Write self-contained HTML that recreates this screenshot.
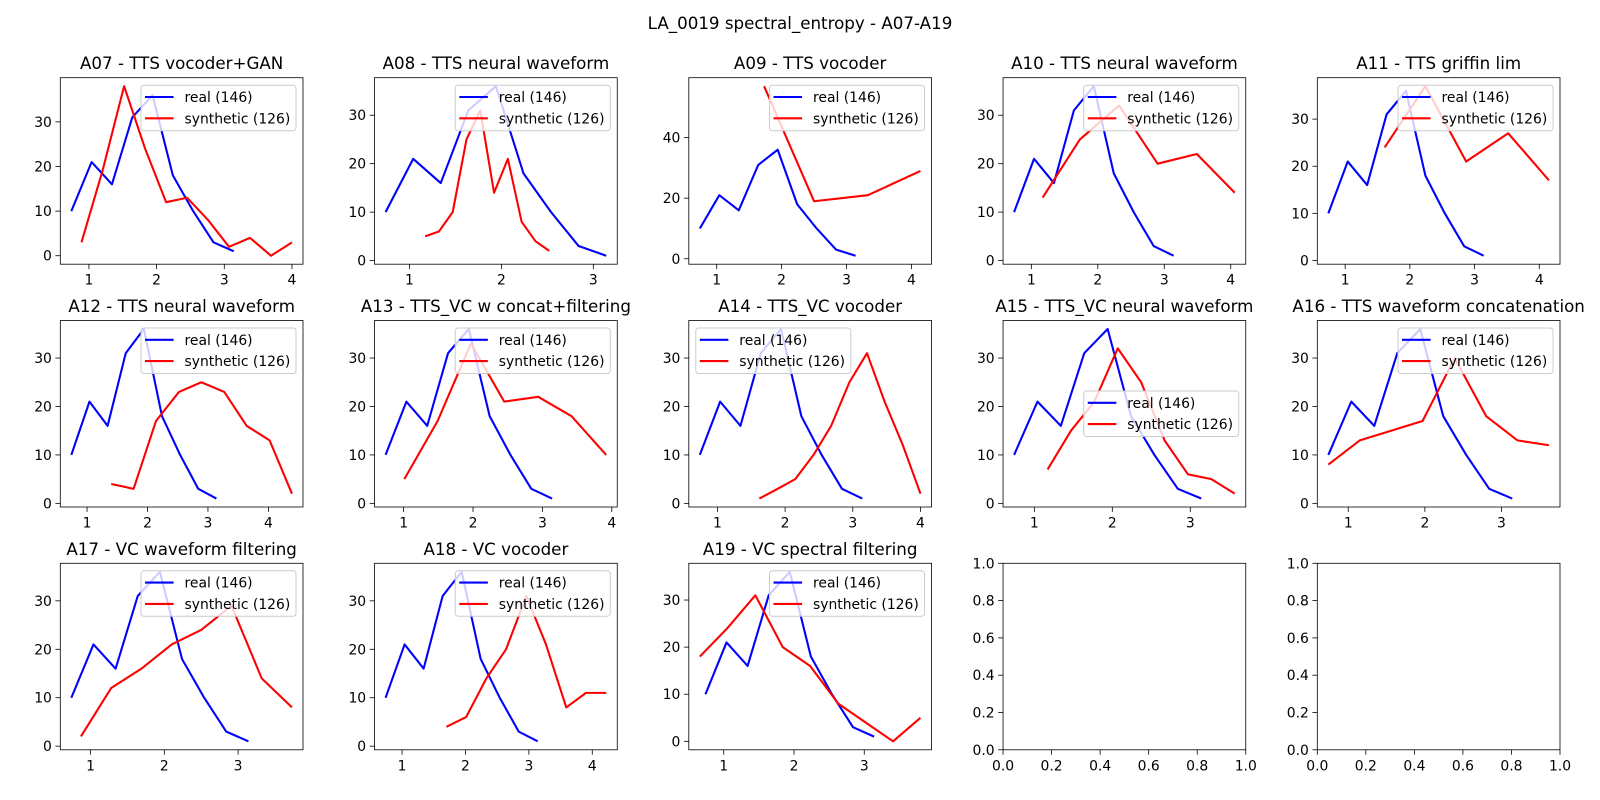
<!DOCTYPE html>
<html><head><meta charset="utf-8">
<style>
html,body{margin:0;padding:0;background:#fff;}
svg{display:block;}
text{font-family:"DejaVu Sans","Liberation Sans",sans-serif;fill:#000;}
</style></head>
<body>
<svg id="fig" width="1600" height="800" viewBox="0 0 1600 800">
<text x="800" y="29" text-anchor="middle" font-size="16.7">LA_0019 spectral_entropy - A07-A19</text>
</svg>
<script>
const titles = ["A07 - TTS vocoder+GAN","A08 - TTS neural waveform","A09 - TTS vocoder","A10 - TTS neural waveform","A11 - TTS griffin lim","A12 - TTS neural waveform","A13 - TTS_VC w concat+filtering","A14 - TTS_VC vocoder","A15 - TTS_VC neural waveform","A16 - TTS waveform concatenation","A17 - VC waveform filtering","A18 - VC vocoder","A19 - VC spectral filtering"];
const realX = [0.74,1.04,1.34,1.64,1.94,2.24,2.54,2.84,3.14];
const realY = [10,21,16,31,36,18,10,3,1];
const synX = [
 [0.89,1.20,1.52,1.83,2.14,2.45,2.76,3.07,3.38,3.69,4.00],
 [1.17,1.32,1.47,1.62,1.77,1.92,2.07,2.22,2.37,2.52],
 [1.73,2.50,3.33,4.14],
 [1.17,1.73,2.32,2.90,3.49,4.06],
 [1.61,2.24,2.87,3.52,4.15],
 [1.40,1.77,2.14,2.52,2.89,3.27,3.64,4.02,4.39],
 [1.01,1.49,1.97,2.45,2.94,3.42,3.92],
 [1.62,1.89,2.15,2.42,2.68,2.95,3.21,3.47,3.74,4.00],
 [1.17,1.47,1.77,2.07,2.37,2.67,2.97,3.27,3.57],
 [0.74,1.15,1.56,1.97,2.39,2.80,3.21,3.62],
 [0.87,1.28,1.69,2.10,2.50,2.91,3.32,3.73],
 [1.70,2.01,2.33,2.64,2.96,3.27,3.59,3.90,4.22],
 [0.66,1.05,1.45,1.84,2.23,2.63,3.02,3.41,3.80]
];
const synY = [
 [3,19,38,24,12,13,8,2,4,0,3],
 [5,6,10,25,31,14,21,8,4,2],
 [57,19,21,29],
 [13,25,32,20,22,14],
 [24,37,21,27,17],
 [4,3,17,23,25,23,16,13,2],
 [5,17,33,21,22,18,10],
 [1,3,5,10,16,25,31,21,12,2],
 [7,15,21,32,25,13,6,5,2],
 [8,13,15,17,30,18,13,12],
 [2,12,16,21,24,29,14,8],
 [4,6,14,20,31,21,8,11,11],
 [18,24,31,20,16,8,4,0,5]
];
const legendLoc = ["ur","ur","ur","ur","ur","ur","ur","ul","cr","ur","ur","ur","ur"];
const xTickVals = [1,2,3,4];
const yTickVals = [0,10,20,30,40,50];
const emptyTicks = [0,0.2,0.4,0.6,0.8,1.0];
const emptyTickLabels = ["0.0","0.2","0.4","0.6","0.8","1.0"];

const NS="http://www.w3.org/2000/svg";
const svg=document.getElementById('fig');
const AX_L0=60.3, AX_DX=314.25, AX_W=242.7, AX_T0=77.7, AX_DY=242.8, AX_H=186.5;
function mk(tag,attrs,parent){const e=document.createElementNS(NS,tag);for(const k in attrs)e.setAttribute(k,attrs[k]);(parent||svg).appendChild(e);return e;}

function drawAxes(i){
  const col=i%5,row=Math.floor(i/5);
  const L=AX_L0+col*AX_DX, T=AX_T0+row*AX_DY, W=AX_W, H=AX_H;
  const g=mk('g',{});
  
  
  let xmin,xmax,ymin,ymax,xt,yt,xl,yl;
  if(i<13){
    const xs=realX.concat(synX[i]), ys=realY.concat(synY[i]);
    const a=Math.min(...xs),b=Math.max(...xs),c=Math.min(...ys),d=Math.max(...ys);
    xmin=a-(b-a)*0.05;xmax=b+(b-a)*0.05;ymin=c-(d-c)*0.05;ymax=d+(d-c)*0.05;
    xt=xTickVals.filter(v=>v>=xmin&&v<=xmax);
    const step=d>45?20:10;
    yt=yTickVals.filter(v=>v%step===0&&v>=ymin&&v<=ymax);
    xl=xt.map(String);yl=yt.map(String);
  } else {
    xmin=0;xmax=1;ymin=0;ymax=1;xt=emptyTicks;yt=emptyTicks;xl=emptyTickLabels;yl=emptyTickLabels;
  }
  const X=v=>L+(v-xmin)/(xmax-xmin)*W;
  const Y=v=>T+H-(v-ymin)/(ymax-ymin)*H;
  // ticks
  xt.forEach((v,k)=>{
    const x=X(v);
    const tk=mk('line',{x1:x,x2:x,y1:T+H,y2:T+H+4.9,stroke:'#000','stroke-width':0.8},g);
    
    
    const t=mk('text',{x:x,y:T+H+20.5,'text-anchor':'middle','font-size':13.9},g);
    t.textContent=xl[k];
    
    
  });
  yt.forEach((v,k)=>{
    const y=Y(v);
    const tk=mk('line',{x1:L-4.9,x2:L,y1:y,y2:y,stroke:'#000','stroke-width':0.8},g);
    
    
    const t=mk('text',{x:L-8.4,y:y+5,'text-anchor':'end','font-size':13.9},g);
    t.textContent=yl[k];
    
    
  });
  if(i<13){
    const cp=mk('clipPath',{id:'cp'+i},g);mk('rect',{x:L,y:T,width:W,height:H},cp);
    const pr=mk('polyline',{points:realX.map((v,k)=>X(v)+','+Y(realY[k])).join(' '),fill:'none',stroke:'#0000ff','stroke-width':2.08,'stroke-linejoin':'round','clip-path':'url(#cp'+i+')'},g);
    
    
    const ps=mk('polyline',{points:synX[i].map((v,k)=>X(v)+','+Y(synY[i][k])).join(' '),fill:'none',stroke:'#ff0000','stroke-width':2.08,'stroke-linejoin':'round','clip-path':'url(#cp'+i+')'},g);
    
    
    const t=mk('text',{x:L+W/2,y:T-8.5,'text-anchor':'middle','font-size':16.7},g);
    t.textContent=titles[i];
    
    
    // legend
    const lw=155,lh=45.5;
    let lx=L+W-7-lw, ly=T+7.5;
    if(legendLoc[i]==='ul') lx=L+7;
    if(legendLoc[i]==='cr') ly=T+H/2-lh/2;
    const lg=mk('g',{},g);
    
    
    mk('rect',{x:lx,y:ly,width:lw,height:lh,rx:3,fill:'#fff','fill-opacity':0.8,stroke:'#cccccc','stroke-width':1},lg);
    const ent=[['real (146)','#0000ff'],['synthetic (126)','#ff0000']];
    ent.forEach((e,k)=>{
      const yy=ly+11.8+k*21.3;
      const eg=mk('g',{},lg);
      
      
      mk('line',{x1:lx+4,x2:lx+32.6,y1:yy,y2:yy,stroke:e[1],'stroke-width':2.08},eg);
      const tt=mk('text',{x:lx+43.5,y:yy+5,'font-size':13.9},eg);
      tt.textContent=e[0];
    });
  }
  const fr=mk('rect',{x:L,y:T,width:W,height:H,fill:'none',stroke:'#000','stroke-width':0.8},g);
  
  
}
for(let i=0;i<15;i++) drawAxes(i);
</script>
</body></html>
